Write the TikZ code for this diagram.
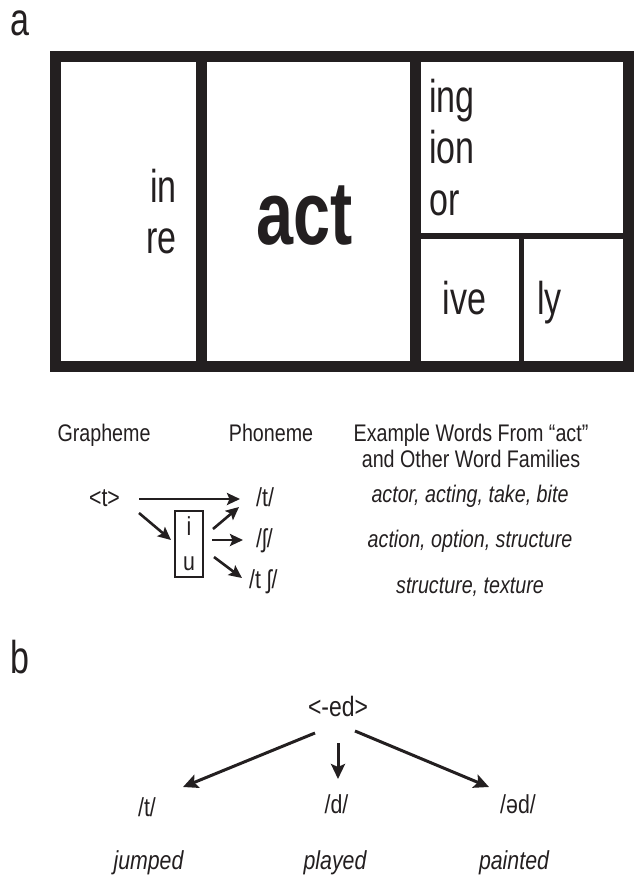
\documentclass[tikz,border=0pt]{standalone}
\usepackage{fontspec}
\setmainfont{Liberation Sans}[FakeStretch=0.82]
\newfontfamily\condfont{Liberation Sans}[FakeStretch=0.74]
\usetikzlibrary{arrows.meta}
\definecolor{ink}{RGB}{35,31,32}
\tikzset{
  morph/.style={inner sep=0pt,font=\condfont\fontsize{46}{46}\selectfont},
  head/.style={inner sep=0pt,font=\fontsize{24}{26}\selectfont},
  exword/.style={inner sep=0pt,font=\fontsize{24}{26}\selectfont\itshape},
  phon/.style={inner sep=0pt,font=\fontsize{26}{26}\selectfont},
  bar/.style={line width=11pt},
  arr/.style={-{Stealth[length=13pt,width=12pt,inset=2.5pt]},line width=2.6pt},
  bigarr/.style={-{Stealth[length=15pt,width=14pt,inset=3pt]},line width=3pt}
}

\begin{document}
\begin{tikzpicture}[x=1pt,y=-1pt,color=ink]
    \useasboundingbox (0,0) rectangle (635,876);

    \node [morph, anchor=base west] (la) at (10,35) {a};
    \draw [bar] (55.5,56) rectangle (628,366.5);
    \draw [bar] (201.5,56) -- (201.5,366.5);
    \draw [bar] (415,56) -- (415,366.5);
    \draw [line width=6pt] (415,236) -- (628,236);
    \draw [line width=5pt] (521.5,236) -- (521.5,366.5);

    \node [morph, anchor=base east] (in) at (177,202) {in};
    \node [morph, anchor=base east] (re) at (177,253) {re};
    \node [morph, font=\condfont\bfseries\fontsize{90}{90}\selectfont, anchor=base] (act) at (304.5,244) {act};
    \node [morph, anchor=base west] (ing) at (429,112) {ing};
    \node [morph, anchor=base west] (ion) at (429,163) {ion};
    \node [morph, anchor=base west] (or) at (429,215) {or};
    \node [morph, anchor=base] (ive) at (464.5,314) {ive};
    \node [morph, anchor=base west] (ly) at (537,314) {ly};

    \node [head, anchor=base] (graph) at (104,441) {Grapheme};
    \node [head, anchor=base] (phone) at (271,441) {Phoneme};
    \node [head, anchor=base, align=center] (words) at (471,467) {Example Words From “act”\\and Other Word Families};

    \node [phon, anchor=base] (gt) at (104.5,506) {<t>};
    \node [phon, draw, line width=1.5pt, minimum width=28pt, minimum height=66pt, align=center, font=\fontsize{26}{35}\selectfont] (iu) at (189,544) {i\\u};
    \node [phon, anchor=base west] (pt) at (256,506) {/t/};
    \node [phon, anchor=base west] (psh) at (256,547) {/ʃ/};
    \node [phon, anchor=base west] (ptsh) at (249,588) {/t ʃ/};

    \coordinate (gt-a) at (139,499);
    \coordinate (gt-b) at (139,513);
    \coordinate (pt-in) at (240,499);
    \coordinate (iu-in) at (171,540);
    \coordinate (iu-a) at (213,529);
    \coordinate (iu-b) at (212,540);
    \coordinate (iu-c) at (214,557);
    \draw [arr] (gt-a) -- (pt-in);
    \draw [arr] (gt-b) -- (iu-in);
    \draw [arr] (iu-a) -- (239,507);
    \draw [arr] (iu-b) -- (243,540);
    \draw [arr] (iu-c) -- (242,578);

    \node [exword, anchor=base] (ex1) at (470,502) {actor, acting, take, bite};
    \node [exword, anchor=base] (ex2) at (470,547) {action, option, structure};
    \node [exword, anchor=base] (ex3) at (470,593) {structure, texture};

    \node [morph, anchor=base west] (lb) at (10,673) {b};
    \node [phon, font=\fontsize{28}{28}\selectfont, anchor=base] (ed) at (338,716) {<-ed>};
    \node [phon, anchor=base] (bt) at (147,816) {/t/};
    \node [phon, anchor=base] (bd) at (336.5,813) {/d/};
    \node [phon, anchor=base] (bad) at (518,813) {/əd/};
    \node [phon, font=\fontsize{26}{26}\selectfont\itshape, anchor=base] (jump) at (148.5,869) {jumped};
    \node [phon, font=\fontsize{26}{26}\selectfont\itshape, anchor=base] (play) at (335,869) {played};
    \node [phon, font=\fontsize{26}{26}\selectfont\itshape, anchor=base] (paint) at (514,869) {painted};

    \coordinate (ed-l) at (315,733);
    \coordinate (ed-m) at (338,743);
    \coordinate (ed-r) at (355,731);
    \draw [bigarr] (ed-l) -- (183,787);
    \draw [bigarr] (ed-m) -- (338,779);
    \draw [bigarr] (ed-r) -- (489,787);
\end{tikzpicture}
\end{document}
